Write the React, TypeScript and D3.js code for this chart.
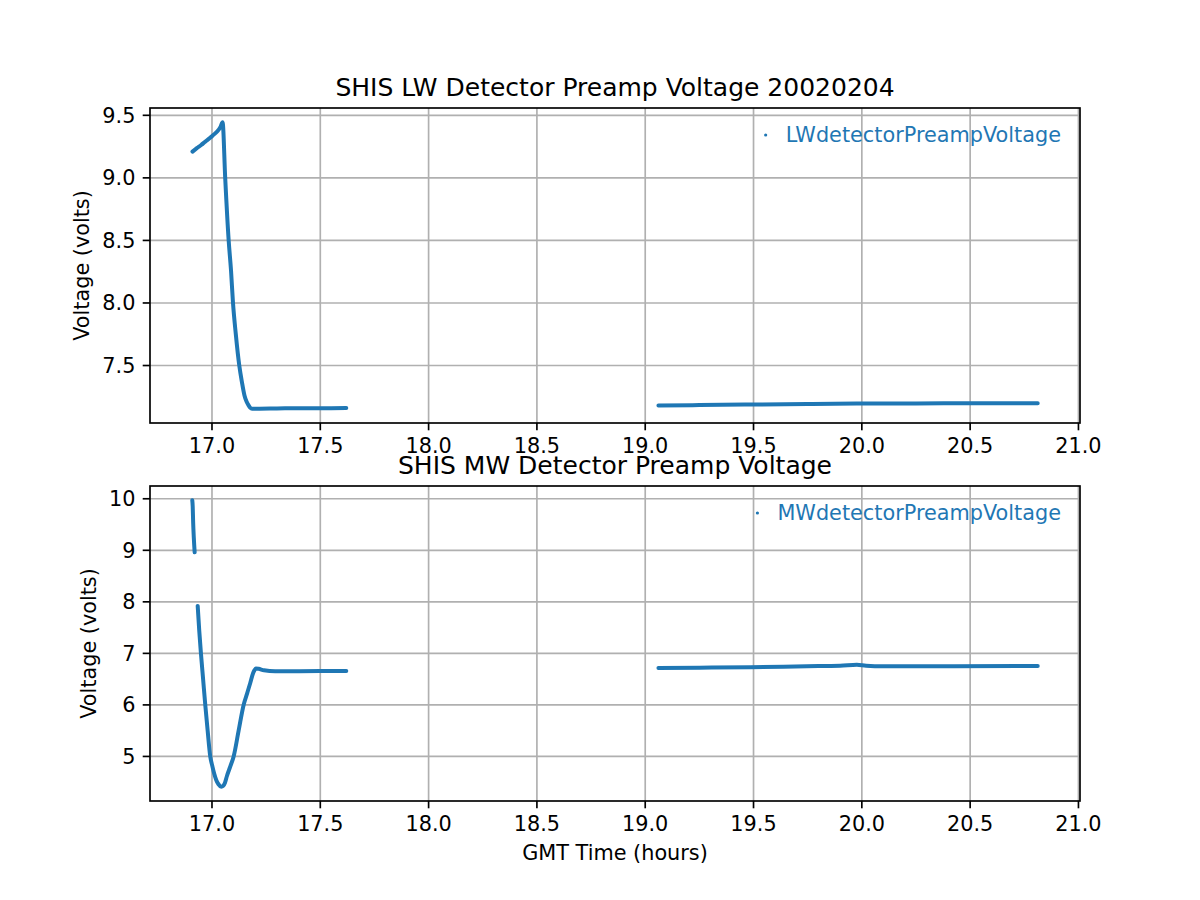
import { useEffect, useRef } from 'react';
import * as d3 from 'd3';

// LW detector preamp voltage, [GMT hours, volts]
const lwSeg1: [number, number][] = [
  [16.910, 9.210], [16.93, 9.238], [16.95, 9.263], [16.969, 9.29], [16.99, 9.318],
  [17.007, 9.344], [17.025, 9.372], [17.04, 9.41], [17.049, 9.444],
  [17.061, 9.0], [17.077, 8.5], [17.088, 8.256], [17.097, 8.0], [17.11, 7.75],
  [17.126, 7.5], [17.138, 7.37], [17.150, 7.261], [17.160, 7.21], [17.169, 7.181],
  [17.176, 7.164], [17.185, 7.155], [17.22, 7.155], [17.30, 7.157], [17.40, 7.158],
  [17.50, 7.158], [17.62, 7.160],
];
const lwSeg2: [number, number][] = [
  [19.061, 7.180], [19.25, 7.184], [19.484, 7.188], [19.75, 7.192], [19.986, 7.196],
  [20.25, 7.197], [20.5, 7.198], [20.812, 7.199],
];

// MW detector preamp voltage, [GMT hours, volts]
const mwSeg1: [number, number][] = [
  [16.909, 9.97], [16.911, 9.85], [16.913, 9.55], [16.916, 9.25], [16.920, 8.96],
];
const mwSeg2: [number, number][] = [
  [16.934, 7.92], [16.941, 7.45], [16.949, 7.0], [16.959, 6.5], [16.969, 6.0],
  [16.980, 5.5], [16.992, 5.0], [17.0, 4.84], [17.01, 4.67], [17.02, 4.54],
  [17.03, 4.46], [17.043, 4.413], [17.052, 4.43], [17.06, 4.49], [17.069, 4.62],
  [17.085, 4.81], [17.100, 5.0], [17.123, 5.5], [17.146, 6.0], [17.162, 6.22],
  [17.177, 6.43], [17.19, 6.62], [17.197, 6.68], [17.203, 6.706], [17.215, 6.70],
  [17.24, 6.672], [17.292, 6.654], [17.40, 6.655], [17.50, 6.656], [17.62, 6.658],
];
const mwSeg3: [number, number][] = [
  [19.061, 6.717], [19.25, 6.722], [19.484, 6.73], [19.746, 6.75], [19.9, 6.76],
  [19.977, 6.78], [20.02, 6.76], [20.1, 6.75], [20.4, 6.752], [20.812, 6.755],
];

const xTicks = [17.0, 17.5, 18.0, 18.5, 19.0, 19.5, 20.0, 20.5, 21.0];
const lwTicks = [7.5, 8.0, 8.5, 9.0, 9.5];
const mwTicks = [5, 6, 7, 8, 9, 10];

const BLUE = '#1f77b4';
const FONT = '"DejaVu Sans", sans-serif';

function padded(vals: number[]): [number, number] {
  const lo = d3.min(vals) as number;
  const hi = d3.max(vals) as number;
  const m = (hi - lo) * 0.05;
  return [lo - m, hi + m];
}

export default function App() {
  const svgRef = useRef<SVGSVGElement | null>(null);

  useEffect(() => {
    if (!svgRef.current) return;
    const svg = d3.select(svgRef.current);
    svg.selectAll('*').remove();

    const left = 150, right = 1080;
    const allX = [...lwSeg1, ...lwSeg2, ...mwSeg1, ...mwSeg2, ...mwSeg3].map(d => d[0]);

    const panels = [
      {
        top: 108, bottom: 423, segs: [lwSeg1, lwSeg2], ticks: lwTicks, fmt: d3.format('.1f'),
        title: 'SHIS LW Detector Preamp Voltage 20020204', label: 'LWdetectorPreampVoltage',
      },
      {
        top: 486, bottom: 801, segs: [mwSeg1, mwSeg2, mwSeg3], ticks: mwTicks, fmt: d3.format('d'),
        title: 'SHIS MW Detector Preamp Voltage', label: 'MWdetectorPreampVoltage',
      },
    ];
    const xFmt = d3.format('.1f');

    panels.forEach((p, pi) => {
      const x = d3.scaleLinear().domain(padded(allX)).range([left, right]);
      const yVals = p.segs.flat().map(d => d[1]);
      const y = d3.scaleLinear().domain(padded(yVals)).range([p.bottom, p.top]);
      const g = svg.append('g');

      // Grid
      g.selectAll('.vgrid').data(xTicks).join('line')
        .attr('x1', d => x(d)).attr('x2', d => x(d))
        .attr('y1', p.top).attr('y2', p.bottom)
        .attr('stroke', '#b0b0b0').attr('stroke-width', 1.67);
      g.selectAll('.hgrid').data(p.ticks).join('line')
        .attr('x1', left).attr('x2', right)
        .attr('y1', d => y(d)).attr('y2', d => y(d))
        .attr('stroke', '#b0b0b0').attr('stroke-width', 1.67);

      // Data (dense dots look like a thick line)
      const line = d3.line<[number, number]>()
        .x(d => x(d[0])).y(d => y(d[1]))
        .curve(d3.curveMonotoneX);
      p.segs.forEach(seg => {
        g.append('path')
          .attr('d', line(seg))
          .attr('fill', 'none')
          .attr('stroke', BLUE)
          .attr('stroke-width', 4)
          .attr('stroke-linejoin', 'round')
          .attr('stroke-linecap', 'round');
      });

      // Spines
      g.append('rect')
        .attr('x', left).attr('y', p.top)
        .attr('width', right - left).attr('height', p.bottom - p.top)
        .attr('fill', 'none').attr('stroke', '#000').attr('stroke-width', 1.67);

      // X ticks
      g.selectAll('.xt').data(xTicks).join('line')
        .attr('x1', d => x(d)).attr('x2', d => x(d))
        .attr('y1', p.bottom).attr('y2', p.bottom + 7.3)
        .attr('stroke', '#000').attr('stroke-width', 1.67);
      g.selectAll('.xl').data(xTicks).join('text')
        .attr('x', d => x(d)).attr('y', p.bottom + 30)
        .attr('text-anchor', 'middle')
        .attr('font-family', FONT).attr('font-size', 20.8)
        .text(d => xFmt(d));

      // Y ticks
      g.selectAll('.yt').data(p.ticks).join('line')
        .attr('x1', left - 7.3).attr('x2', left)
        .attr('y1', d => y(d)).attr('y2', d => y(d))
        .attr('stroke', '#000').attr('stroke-width', 1.67);
      g.selectAll('.yl').data(p.ticks).join('text')
        .attr('x', left - 14.6).attr('y', d => y(d))
        .attr('dy', '0.36em')
        .attr('text-anchor', 'end')
        .attr('font-family', FONT).attr('font-size', 20.8)
        .text(d => p.fmt(d));

      // Title
      g.append('text')
        .attr('x', (left + right) / 2).attr('y', p.top - 12.5)
        .attr('text-anchor', 'middle')
        .attr('font-family', FONT).attr('font-size', 25)
        .text(p.title);

      // Y label
      const yc = (p.top + p.bottom) / 2;
      const lx = pi === 0 ? 89 : 96;
      g.append('text')
        .attr('transform', `translate(${lx},${yc}) rotate(-90)`)
        .attr('text-anchor', 'middle')
        .attr('font-family', FONT).attr('font-size', 20.8)
        .text('Voltage (volts)');

      // Legend
      const ly = p.top + 34;
      g.append('text')
        .attr('x', 1061).attr('y', ly)
        .attr('text-anchor', 'end')
        .attr('font-family', FONT).attr('font-size', 20.8)
        .attr('fill', BLUE)
        .text(p.label);
    });

    // Legend markers, placed after text width is known
    svg.selectAll<SVGTextElement, unknown>('text').each(function () {
      const el = this as SVGTextElement;
      if (el.getAttribute('fill') !== BLUE) return;
      const bb = el.getBBox();
      svg.append('circle')
        .attr('cx', bb.x - 20).attr('cy', Number(el.getAttribute('y')) - 7)
        .attr('r', 1.6).attr('fill', BLUE);
    });

    // X label
    svg.append('text')
      .attr('x', 615).attr('y', 860)
      .attr('text-anchor', 'middle')
      .attr('font-family', FONT).attr('font-size', 20.8)
      .text('GMT Time (hours)');
  }, []);

  return (
    <svg
      ref={svgRef}
      width={1200}
      height={900}
      style={{ position: 'absolute', left: 0, top: 0, background: '#fff' }}
    />
  );
}
